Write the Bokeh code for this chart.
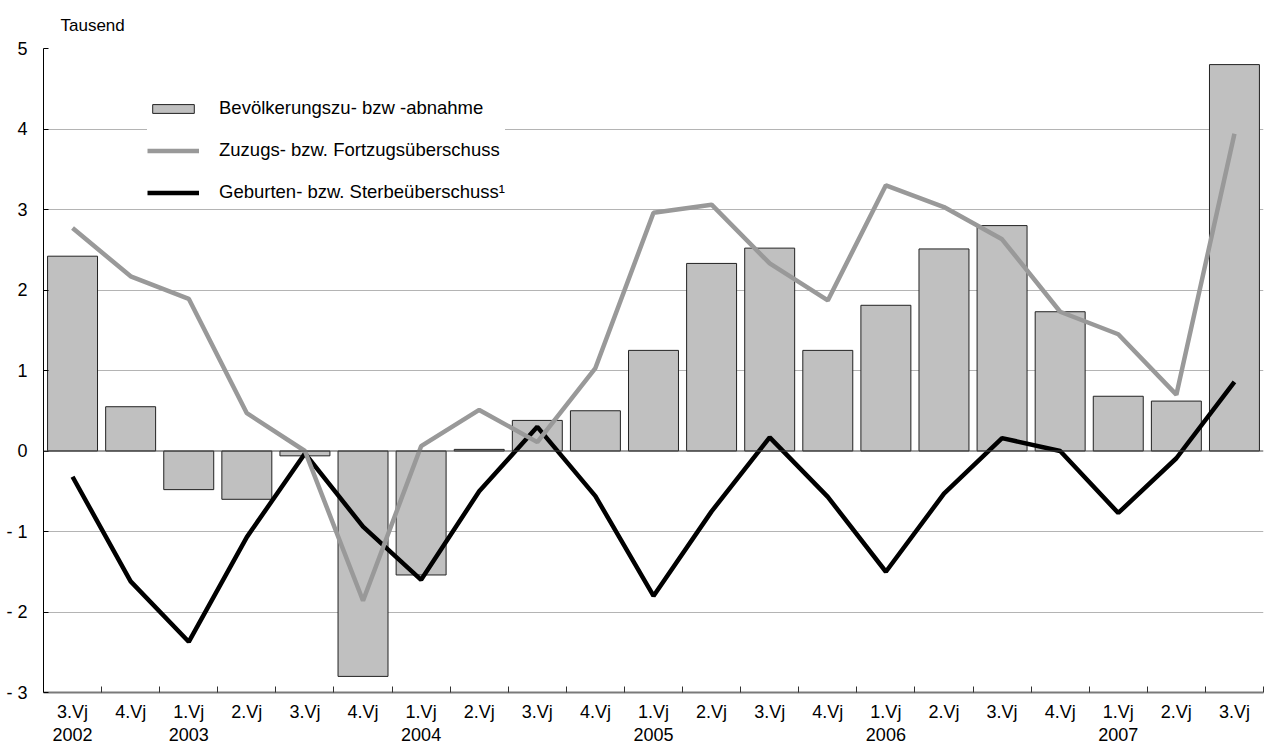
from bokeh.plotting import figure
from bokeh.models import (Range1d, FixedTicker, Span, Legend, LegendItem, ColumnDataSource)
from bokeh.embed import file_html
from bokeh.resources import INLINE

quarters = ["3.Vj", "4.Vj", "1.Vj", "2.Vj", "3.Vj", "4.Vj", "1.Vj", "2.Vj", "3.Vj", "4.Vj",
            "1.Vj", "2.Vj", "3.Vj", "4.Vj", "1.Vj", "2.Vj", "3.Vj", "4.Vj", "1.Vj", "2.Vj", "3.Vj"]
years = ["2002", "", "2003", "", "", "", "2004", "", "", "", "2005", "", "", "", "2006", "", "", "", "2007", "", ""]

bevoelkerung = [2.42, 0.55, -0.48, -0.60, -0.06, -2.80, -1.54, 0.02, 0.38, 0.50, 1.25,
                2.33, 2.52, 1.25, 1.81, 2.51, 2.80, 1.73, 0.68, 0.62, 4.80]
zuzug = [2.77, 2.17, 1.89, 0.47, 0.00, -1.86, 0.06, 0.51, 0.11, 1.03, 2.96,
         3.06, 2.33, 1.87, 3.30, 3.03, 2.63, 1.73, 1.45, 0.70, 3.94]
geburten = [-0.32, -1.62, -2.37, -1.07, -0.03, -0.94, -1.60, -0.50, 0.30, -0.56, -1.80,
            -0.75, 0.17, -0.57, -1.50, -0.53, 0.16, 0.00, -0.77, -0.09, 0.86]
y_ticks = [-3, -2, -1, 0, 1, 2, 3, 4, 5]
y_labels = {-3: "- 3", -2: "- 2", -1: "- 1", 0: "0", 1: "1", 2: "2", 3: "3", 4: "4", 5: "5"}
unit_label = "Tausend"

idx = list(range(len(quarters)))
src = ColumnDataSource(dict(x=idx, bev=bevoelkerung, zu=zuzug, geb=geburten))

FONT = "Liberation Sans"

p = figure(width=1264, height=756, output_backend="svg", toolbar_location=None,
           x_range=Range1d(-0.5, len(quarters) - 0.5), y_range=Range1d(-3, 5),
           min_border_left=43, min_border_right=1, min_border_top=48, min_border_bottom=64,
           title=unit_label)
p.outline_line_color = None
p.background_fill_color = "white"
p.title.text_font = FONT
p.title.text_font_size = "17px"
p.title.text_font_style = "normal"
p.title.text_color = "black"
p.title.align = "left"
p.title.vertical_align = "top"
p.title.offset = 17
p.title.standoff = 23

# grid
p.xgrid.grid_line_color = None
p.ygrid.ticker = FixedTicker(ticks=[-2, -1, 1, 2, 3, 4, 5])
p.ygrid.grid_line_color = "#b4b4b4"
p.ygrid.grid_line_width = 1

# y axis
p.yaxis.ticker = FixedTicker(ticks=y_ticks)
p.yaxis.major_label_overrides = y_labels
p.yaxis.major_label_text_font = FONT
p.yaxis.major_label_text_font_size = "18px"
p.yaxis.major_label_text_color = "black"
p.yaxis.axis_line_color = "black"
p.yaxis.axis_line_width = 1
p.yaxis.major_tick_in = 5
p.yaxis.major_tick_out = 0
p.yaxis.major_tick_line_color = "black"
p.yaxis.minor_tick_line_color = None
p.yaxis.major_label_standoff = 16

# x axis
p.xaxis.ticker = FixedTicker(ticks=idx, minor_ticks=[i + 0.5 for i in idx])
p.xaxis.major_label_overrides = {i: (q + "\n" + y if y else q) for i, (q, y) in enumerate(zip(quarters, years))}
p.xaxis.major_label_text_font = FONT
p.xaxis.major_label_text_font_size = "18px"
p.xaxis.major_label_text_color = "black"
p.xaxis.major_label_text_line_height = 1.15
p.xaxis.major_tick_line_color = None
p.xaxis.major_tick_out = 0
p.xaxis.major_tick_in = 0
p.xaxis.minor_tick_in = 6
p.xaxis.minor_tick_out = 0
p.xaxis.minor_tick_line_color = "#333333"
p.xaxis.axis_line_color = "#7a7a7a"
p.xaxis.axis_line_width = 2
p.xaxis.major_label_standoff = 9

# zero line
p.add_layout(Span(location=0, dimension="width", line_color="#444444", line_width=1))

bars = p.vbar(x="x", top="bev", bottom=0, width=0.86, source=src,
              fill_color="#c0c0c0", line_color="#222222", line_width=1)
lgeb = p.line(x="x", y="geb", source=src, line_color="black", line_width=4.5)
lzu = p.line(x="x", y="zu", source=src, line_color="#999999", line_width=4.5)

legend = Legend(items=[
    LegendItem(label="Bevölkerungszu- bzw -abnahme", renderers=[bars]),
    LegendItem(label="Zuzugs- bzw. Fortzugsüberschuss", renderers=[lzu]),
    LegendItem(label="Geburten- bzw. Sterbeüberschuss¹", renderers=[lgeb]),
], location=(104, 489))
legend.label_text_font = FONT
legend.label_text_font_size = "18.5px"
legend.label_text_color = "black"
legend.glyph_width = 52
legend.glyph_height = 11
legend.label_height = 20
legend.label_standoff = 20
legend.spacing = 20
legend.padding = 14
legend.border_line_color = None
legend.background_fill_color = "white"
legend.background_fill_alpha = 1.0
p.add_layout(legend)

open("out.html", "w").write(file_html(p, INLINE))
